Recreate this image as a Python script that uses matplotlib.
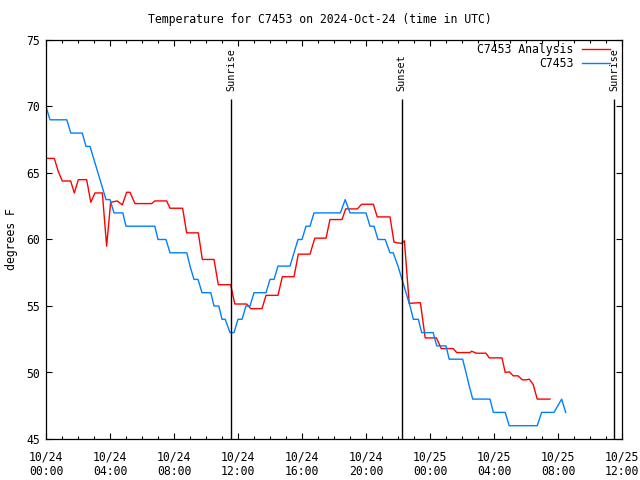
import matplotlib
matplotlib.use('Agg')
import matplotlib.pyplot as plt
from matplotlib.ticker import MultipleLocator

# hours since 2024-10-24 00:00 UTC
obs_hours = [0.0, 0.25, 1.3, 1.55, 2.27, 2.5, 2.75, 3.0, 3.25, 3.5, 3.75, 4.0,
             4.25, 4.8, 5.0, 6.8, 7.0, 7.5, 7.75, 8.8, 9.0, 9.25, 9.5, 9.75,
             10.3, 10.5, 10.8, 11.0, 11.2, 11.5, 11.75, 12.0, 12.25, 12.5,
             12.75, 13.0, 13.75, 14.0, 14.25, 14.5, 15.25, 15.5, 15.75, 16.0,
             16.25, 16.5, 16.75, 18.4, 18.7, 19.0, 20.0, 20.25, 20.5, 20.75,
             21.2, 21.5, 21.7, 22.0, 22.25, 22.5, 22.75, 22.96, 23.27, 23.48,
             24.2, 24.42, 25.0, 25.2, 26.04, 26.25, 26.45, 26.67, 27.75, 27.96,
             28.7, 28.95, 30.7, 30.98, 31.75, 32.23, 32.48]
obs_temp = [70, 69, 69, 68, 68, 67, 67, 66, 65, 64, 63, 63,
            62, 62, 61, 61, 60, 60, 59, 59, 58, 57, 57, 56,
            56, 55, 55, 54, 54, 53, 53, 54, 54, 55,
            55, 56, 56, 57, 57, 58, 58, 59, 60, 60,
            61, 61, 62, 62, 63, 62, 62, 61, 61, 60,
            60, 59, 59, 58, 57, 56, 55, 54, 54, 53,
            53, 52, 52, 51, 51, 50, 49, 48, 48, 47,
            47, 46, 46, 47, 47, 48, 47]

ana_hours = [0.0, 0.52, 0.77, 1.02, 1.54, 1.77, 2.02, 2.54, 2.8, 3.06, 3.52,
             3.79, 4.04, 4.46, 4.77, 5.04, 5.25, 5.56, 6.6, 6.8, 7.54, 7.75,
             8.54, 8.79, 9.52, 9.77, 10.5, 10.77, 11.54, 11.8, 12.54, 12.8,
             13.5, 13.75, 14.5, 14.77, 15.5, 15.77, 16.5, 16.8, 17.5, 17.75,
             18.5, 18.73, 19.46, 19.73, 20.46, 20.7, 21.5, 21.75, 22.2, 22.4,
             22.7, 23.4, 23.7, 24.4, 24.7, 25.45, 25.67, 26.5, 26.6, 26.9,
             27.5, 27.7, 28.5, 28.7, 28.96, 29.2, 29.5, 29.77, 30.04, 30.2,
             30.45, 30.7, 31.5]
ana_temp = [66.1, 66.1, 65.1, 64.4, 64.4, 63.5, 64.5, 64.5, 62.8, 63.5, 63.5,
            59.5, 62.8, 62.9, 62.6, 63.55, 63.55, 62.7, 62.7, 62.9, 62.9, 62.35,
            62.35, 60.5, 60.5, 58.5, 58.5, 56.6, 56.6, 55.15, 55.15, 54.8,
            54.8, 55.8, 55.8, 57.2, 57.2, 58.9, 58.9, 60.1, 60.1, 61.5,
            61.5, 62.3, 62.3, 62.65, 62.65, 61.7, 61.7, 59.8, 59.7, 59.9,
            55.2, 55.25, 52.6, 52.6, 51.8, 51.8, 51.5, 51.5, 51.6, 51.45,
            51.45, 51.1, 51.1, 50.0, 50.05, 49.75, 49.75, 49.45, 49.45, 49.5,
            49.1, 48.0, 48.0]

sun_hours = [11.59, 22.22, 35.53]
sun_labels = ['Sunrise', 'Sunset', 'Sunrise']

tick_hours = [0, 4, 8, 12, 16, 20, 24, 28, 32, 36]
tick_labels = ['10/24\n00:00', '10/24\n04:00', '10/24\n08:00', '10/24\n12:00',
               '10/24\n16:00', '10/24\n20:00', '10/25\n00:00', '10/25\n04:00',
               '10/25\n08:00', '10/25\n12:00']

plt.rcParams['font.family'] = ['DejaVu Sans Mono']
plt.rcParams['font.size'] = 8.3

fig = plt.figure(figsize=(6.4, 4.8), dpi=100)
ax = fig.add_axes([46 / 640, 1 - 439 / 480, 576 / 640, 399 / 480])

ax.plot(ana_hours, ana_temp, color='#ff0000', lw=1.0, label='C7453 Analysis')
ax.plot(obs_hours, obs_temp, color='#0080ff', lw=1.0, label='C7453')

for h, lab in zip(sun_hours, sun_labels):
    ax.vlines(h, 45, 70.6, color='black', lw=1.0)
    ax.text(h, 71.2, lab, rotation=90, ha='center', va='bottom', fontsize=7.3)

ax.set_xlim(0, 36)
ax.set_ylim(45, 75)
ax.set_xticks(tick_hours)
ax.set_xticklabels(tick_labels)
ax.xaxis.set_minor_locator(MultipleLocator(1))
ax.set_yticks([45, 50, 55, 60, 65, 70, 75])
ax.tick_params(which='both', direction='in', top=True, right=True, width=0.8)
ax.tick_params(which='major', length=4.5)
ax.tick_params(axis='x', which='major', pad=8)
ax.tick_params(axis='y', which='major', pad=4)
ax.tick_params(which='minor', length=2.2)
for s in ax.spines.values():
    s.set_linewidth(0.9)

ax.set_ylabel('degrees F', labelpad=6)
fig.text(0.5, 1 - 19 / 480, 'Temperature for C7453 on 2024-Oct-24 (time in UTC)',
         ha='center', va='center')

ax.legend(loc='upper right', bbox_to_anchor=(1 - 12 / 576, 1 - 3 / 399),
          frameon=False, markerfirst=False, handlelength=2.45,
          handletextpad=0.7, labelspacing=0.05, borderpad=0, borderaxespad=0)

fig.savefig('out.png', dpi=100)
